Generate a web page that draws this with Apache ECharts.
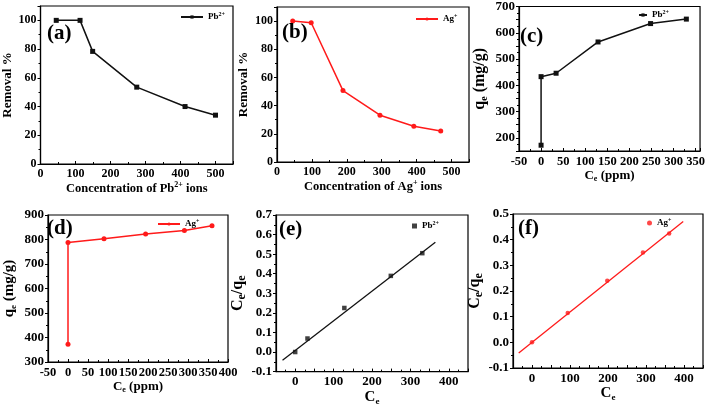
<!DOCTYPE html>
<html>
<head>
<meta charset="utf-8">
<script src="https://cdn.jsdelivr.net/npm/echarts@6/dist/echarts.min.js"></script>
<style>html,body{margin:0;padding:0;background:#fff}#c{width:708px;height:407px}</style>
</head>
<body>
<div id="c"></div>
<script>
// ---- data ----
// (a) Pb2+ removal
const aConc = [45, 113, 149, 275, 413, 500];
const aRemoval = [100, 100, 78.4, 53.5, 40, 34];
// (b) Ag+ removal
const bConc = [45, 98, 189, 295, 392, 469];
const bRemoval = [100, 98.8, 50.7, 33.2, 25.4, 22];
// (c) Pb2+ isotherm
const cCe = [0, 0, 34, 129, 248, 329];
const cQe = [172, 433, 446, 565, 635, 652];
// (d) Ag+ isotherm
const dCe = [0, 0, 90, 194, 291, 360];
const dQe = [372, 788, 803, 822, 837, 856];
// (e) Pb2+ Langmuir
const eCe = [0, 32, 128, 249, 331];
const eRatio = [0.0, 0.069, 0.225, 0.389, 0.505];
const eFitX = [-33, 365];
const eFitY = [-0.042, 0.561];
// (f) Ag+ Langmuir
const fCe = [0, 94, 198, 292, 361];
const fRatio = [0.0, 0.114, 0.24, 0.35, 0.424];
const fFitX = [-35, 398];
const fFitY = [-0.042, 0.471];
// tick label steps
const removalTicks = [0, 20, 40, 60, 80, 100];

const FONT = '"Liberation Serif","Times New Roman",serif';
const BLACK = '#111';
const RED = '#ff1a1a';
const zip = (xs, ys) => xs.map((x, i) => [x, ys[i]]);

function richStyle(size, subScale) {
  const s = subScale || 0.62;
  const base = {fontFamily: FONT, fontWeight: 'bold', color: '#000'};
  const small = Math.round(size * s);
  return Object.assign({}, base, {
    fontSize: size,
    rich: {
      t: Object.assign({}, base, {fontSize: size, lineHeight: size + 3}),
      sup: Object.assign({}, base, {fontSize: small, lineHeight: small, verticalAlign: 'top'}),
      sub: Object.assign({}, base, {fontSize: small, lineHeight: small, verticalAlign: 'bottom'})
    }
  });
}

const grids = [
  {left: 40, top: 6, width: 193, height: 158},
  {left: 277, top: 7, width: 192, height: 155},
  {left: 519, top: 6, width: 184, height: 145},
  {left: 48, top: 215, width: 180, height: 147},
  {left: 276, top: 215, width: 192, height: 159},
  {left: 513, top: 214, width: 190, height: 154}
].map(g => Object.assign(g, {show: true, borderColor: '#000', borderWidth: 1.2, backgroundColor: 'transparent'}));

function axisCommon(inside, labelSize) {
  return {
    axisLine: {show: true, onZero: false, lineStyle: {color: '#000', width: 1.2}},
    axisTick: {show: true, inside: inside, length: 3, lineStyle: {color: '#000', width: 1}},
    minorTick: {show: true, splitNumber: 2, length: 2, lineStyle: {color: '#000'}},
    splitLine: {show: false},
    axisLabel: {fontFamily: FONT, fontWeight: 'bold', fontSize: labelSize, color: '#000', margin: 4},
    nameLocation: 'middle'
  };
}
function makeAxis(inside, idx, min, max, interval, name, gap, fmt, labelSize, nameSize, subScale) {
  const a = axisCommon(inside, labelSize);
  a.gridIndex = idx; a.type = 'value'; a.min = min; a.max = max; a.interval = interval;
  a.name = name; a.nameGap = gap; a.nameTextStyle = richStyle(nameSize, subScale);
  if (fmt) a.axisLabel.formatter = fmt;
  return a;
}
const onlyMultiples = (m, lo, hi, dec) => v => {
  const r = Math.round(v / m) * m;
  if (Math.abs(r - v) > 1e-6) return '';
  if (lo !== undefined && (v < lo - 1e-9 || v > hi + 1e-9)) return '';
  return dec ? v.toFixed(dec) : String(Math.round(v));
};
const removalFmt = v => removalTicks.indexOf(v) >= 0 ? String(v) : '';

const xAxes = [
  makeAxis(true, 0, 0, 550, 100, '{t|Concentration of Pb}{sup|2+}{t| ions}', 16, onlyMultiples(100, 0, 500), 12, 12.5),
  makeAxis(true, 1, 0, 550, 100, '{t|Concentration of Ag}{sup|+}{t| ions}', 16, onlyMultiples(100, 0, 500), 12, 12.5),
  makeAxis(true, 2, -50, 360, 50, '{t|C}{sub|e}{t| (ppm)}', 15, onlyMultiples(50, -50, 350), 12.5, 13),
  makeAxis(true, 3, -50, 400, 50, '{t|C}{sub|e}{t| (ppm)}', 11, onlyMultiples(50, -50, 400), 12.5, 13),
  makeAxis(true, 4, -50, 450, 50, '{t|C}{sub|e}', 8, onlyMultiples(100, 0, 400), 13, 15),
  makeAxis(true, 5, -50, 450, 50, '{t|C}{sub|e}', 12, onlyMultiples(100, 0, 400), 13, 15)
];
const yAxes = [
  makeAxis(false, 0, 0, 110, 20, '{t|Removal %}', 25, removalFmt, 12, 13),
  makeAxis(false, 1, 0, 110, 20, '{t|Removal %}', 25, removalFmt, 12, 13),
  makeAxis(false, 2, 150, 700, 50, '{t|q}{sub|e}{t| (mg/g)}', 30, onlyMultiples(100, 200, 700), 13, 16),
  makeAxis(false, 3, 300, 900, 100, '{t|q}{sub|e}{t| (mg/g)}', 30, onlyMultiples(100, 300, 900), 13, 15),
  makeAxis(false, 4, -0.1, 0.7, 0.1, '{t|C}{sub|e}{t|/q}{sub|e}', 24, v => v.toFixed(1), 13, 16, 0.72),
  makeAxis(false, 5, -0.1, 0.5, 0.1, '{t|C}{sub|e}{t|/q}{sub|e}', 24, v => v.toFixed(1), 13, 16, 0.72)
];

function lineSeries(name, idx, data, color, symbol) {
  return {name, type: 'line', xAxisIndex: idx, yAxisIndex: idx, data,
    symbol, symbolSize: 5, showSymbol: true, animation: false,
    itemStyle: {color}, lineStyle: {color, width: 1.5}, z: 3};
}
function scatterSeries(name, idx, data, color, symbol) {
  return {name, type: 'scatter', xAxisIndex: idx, yAxisIndex: idx, data,
    symbol, symbolSize: 4.5, animation: false, itemStyle: {color}, z: 4};
}
function fitSeries(idx, xs, ys, color) {
  return {type: 'line', xAxisIndex: idx, yAxisIndex: idx, data: zip(xs, ys),
    showSymbol: false, symbol: 'none', animation: false, lineStyle: {color, width: 1.3}, z: 2};
}

const series = [
  lineSeries('Pb_a', 0, zip(aConc, aRemoval), BLACK, 'rect'),
  lineSeries('Ag_b', 1, zip(bConc, bRemoval), RED, 'circle'),
  lineSeries('Pb_c', 2, zip(cCe, cQe), BLACK, 'rect'),
  lineSeries('Ag_d', 3, zip(dCe, dQe), RED, 'circle'),
  scatterSeries('Pb_e', 4, zip(eCe, eRatio), BLACK, 'rect'),
  fitSeries(4, eFitX, eFitY, BLACK),
  scatterSeries('Ag_f', 5, zip(fCe, fRatio), RED, 'circle'),
  fitSeries(5, fFitX, fFitY, RED)
];

const legendNames = {
  Pb_a: '{t|Pb}{sup|2+}', Ag_b: '{t|Ag}{sup|+}', Pb_c: '{t|Pb}{sup|2+}',
  Ag_d: '{t|Ag}{sup|+}', Pb_e: '{t|Pb}{sup|2+}', Ag_f: '{t|Ag}{sup|+}'
};
function legend(name, left, top, w, h) {
  return {data: [name], left, top, itemWidth: w, itemHeight: h, itemGap: 2, padding: 0,
    selectedMode: false, formatter: n => legendNames[n], textStyle: richStyle(9)};
}
const legends = [
  legend('Pb_a', 180, 11, 22, 4),
  legend('Ag_b', 415, 13, 22, 4),
  legend('Pb_c', 638, 9, 8, 4),
  legend('Ag_d', 157, 218, 22, 4),
  legend('Pb_e', 412, 220, 5, 5),
  legend('Ag_f', 647, 217, 5, 5)
];

function panelLabel(text, left, top) {
  return {type: 'text', left, top, z: 10,
    style: {text, fontFamily: FONT, fontWeight: 'bold', fontSize: 21, fill: '#000'}};
}

const chart = echarts.init(document.getElementById('c'), null, {renderer: 'canvas'});
chart.setOption({
  backgroundColor: '#fff',
  animation: false,
  grid: grids,
  xAxis: xAxes,
  yAxis: yAxes,
  legend: legends,
  series,
  graphic: [
    panelLabel('(a)', 47, 23),
    panelLabel('(b)', 282, 22),
    panelLabel('(c)', 520, 26),
    panelLabel('(d)', 47, 218),
    panelLabel('(e)', 279, 219),
    panelLabel('(f)', 518, 218)
  ]
});
</script>
</body>
</html>
